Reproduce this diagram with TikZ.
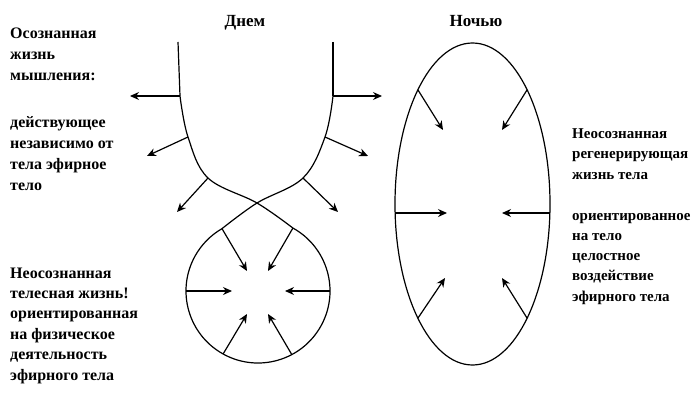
\documentclass[tikz,border=0pt]{standalone}
\usepackage{fontspec}
\setmainfont{Liberation Serif}
\usepackage{tikz}
\usetikzlibrary{arrows.meta,shapes.geometric}

\begin{document}
\begin{tikzpicture}[x=1pt, y=-1pt,
  txt/.style={anchor=base west, align=left, inner sep=0pt, font=\bfseries\fontsize{16}{20.4}\selectfont},
  txtwide/.style={txt, font=\bfseries\fontsize{16}{21}\selectfont},
  txtright/.style={txt, font=\bfseries\fontsize{15}{20.2}\selectfont},
  head/.style={anchor=base, inner sep=0pt, font=\bfseries\fontsize{17}{20}\selectfont},
  arrow/.style={-{Stealth[length=9pt,width=8pt]}, line width=1.2pt},
  line/.style={line width=1.2pt}
]
  \useasboundingbox (0,0) rectangle (700,398);

  % headings
  \node[head] (day) at (245,27) {Днем};
  \node[head] (night) at (476,27) {Ночью};

  % texts (anchored at the last baseline)
  \node[txtwide] (conscious) at (10,81) {Осознанная\\жизнь\\мышления:};
  \node[txtwide] (ether) at (10,190) {действующее\\независимо от\\тела эфирное\\тело};
  \node[txt] (bodily) at (10,380) {Неосознанная\\телесная жизнь!\\ориентированная\\на физическое\\деятельность\\эфирного тела};
  \node[txtright] (regen) at (572,179) {Неосознанная\\регенерирующая\\жизнь тела};
  \node[txtright] (whole) at (572,301) {ориентированное\\на тело\\целостное\\воздействие\\эфирного тела};

  % day curve
  \coordinate (l0) at (178,42);
  \coordinate (l1) at (180,96);
  \coordinate (l2) at (188,137);
  \coordinate (l3) at (208,178);
  \coordinate (x) at (257,203);
  \coordinate (r0) at (333,42);
  \coordinate (r1) at (333,96);
  \coordinate (r2) at (325,137);
  \coordinate (r3) at (303,178);
  \coordinate (c) at (258,291);
  \coordinate (p1) at ([shift={(240:72)}]c);
  \coordinate (p2) at ([shift={(-61:72)}]c);
  \coordinate (p3) at ([shift={(180:72)}]c);
  \coordinate (p4) at ([shift={(0:72)}]c);
  \coordinate (p5) at ([shift={(119:72)}]c);
  \coordinate (p6) at ([shift={(62:72)}]c);

  \draw[line] (l0) -- (l1);
  \draw[line] (r0) -- (r1);
  \draw[line] plot[smooth, tension=0.6] coordinates {(l1) (l2) (l3) (x) (p2)};
  \draw[line] (p2) arc[start angle=-61, end angle=240, radius=72];
  \draw[line] plot[smooth, tension=0.6] coordinates {(p1) (x) (r3) (r2) (r1)};

  % outward arrows
  \coordinate (lo1) at (130,96);
  \coordinate (lo2) at (147,156);
  \coordinate (lo3) at (177,212);
  \coordinate (ro1) at (382,96);
  \coordinate (ro2) at (368,156);
  \coordinate (ro3) at (338,212);
  \draw[arrow] (l1) -- (lo1);
  \draw[arrow] (l2) -- (lo2);
  \draw[arrow] (l3) -- (lo3);
  \draw[arrow] (r1) -- (ro1);
  \draw[arrow] (r2) -- (ro2);
  \draw[arrow] (r3) -- (ro3);

  % inward arrows, lower loop
  \coordinate (pi1) at (247,271);
  \coordinate (pi2) at (268,271);
  \coordinate (pi3) at (232,291);
  \coordinate (pi4) at (285,291);
  \coordinate (pi5) at (247,314);
  \coordinate (pi6) at (268,314);
  \draw[arrow] (p1) -- (pi1);
  \draw[arrow] (p2) -- (pi2);
  \draw[arrow] (p3) -- (pi3);
  \draw[arrow] (p4) -- (pi4);
  \draw[arrow] (p5) -- (pi5);
  \draw[arrow] (p6) -- (pi6);

  % night ellipse
  \node[line, draw, ellipse, minimum width=155pt, minimum height=322pt, inner sep=0pt] (egg) at (472.5,204) {};
  \coordinate (e1) at (418,90);
  \coordinate (e2) at (527,90);
  \coordinate (e3) at (395.2,213);
  \coordinate (e4) at (549.8,213);
  \coordinate (e5) at (418,318);
  \coordinate (e6) at (527,318);
  \coordinate (ei1) at (443,130);
  \coordinate (ei2) at (502,130);
  \coordinate (ei3) at (447,213);
  \coordinate (ei4) at (502,213);
  \coordinate (ei5) at (445,278);
  \coordinate (ei6) at (502,278);
  \draw[arrow] (e1) -- (ei1);
  \draw[arrow] (e2) -- (ei2);
  \draw[arrow] (e3) -- (ei3);
  \draw[arrow] (e4) -- (ei4);
  \draw[arrow] (e5) -- (ei5);
  \draw[arrow] (e6) -- (ei6);
\end{tikzpicture}
\end{document}
